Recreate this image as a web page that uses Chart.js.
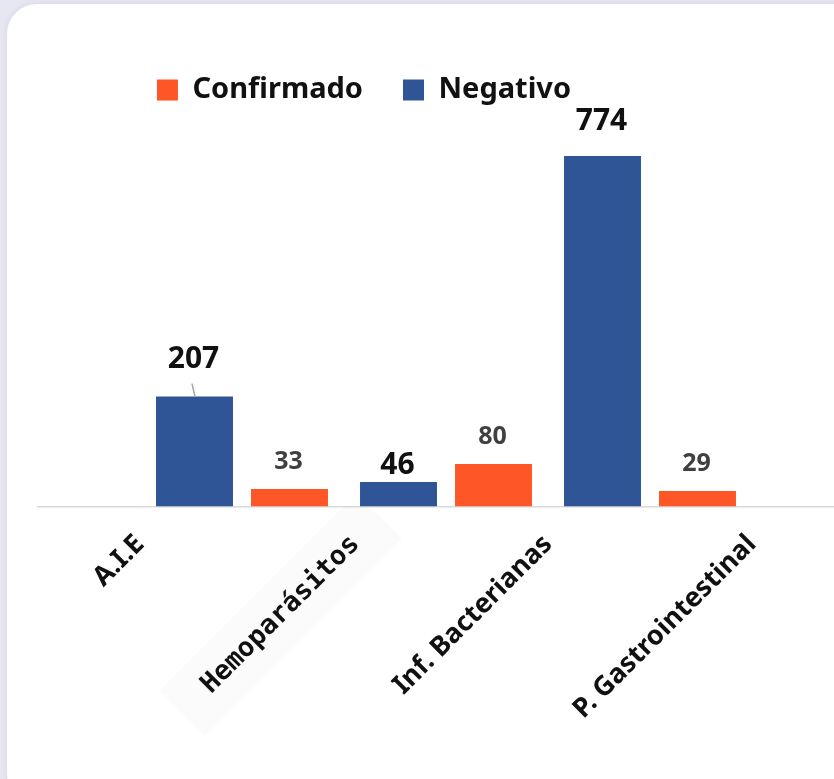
<!DOCTYPE html>
<html lang="es">
<head>
  <meta charset="UTF-8" />
  <title>Confirmado vs Negativo</title>
  <script src="https://cdn.jsdelivr.net/npm/chart.js"></script>
  <style>
    html, body {
      margin: 0;
      width: 834px;
      height: 779px;
      overflow: hidden;
      background: #e7e7f2;
    }
    .card {
      position: absolute;
      left: 7px;
      top: 4px;
      width: 860px;
      height: 800px;
      background: #fff;
      border-radius: 30px;
      box-shadow: 0 0 6px rgba(120,120,170,0.15);
    }
    .wrap {
      position: absolute;
      left: -126px;
      top: 0;
    }
  </style>
</head>
<body>
  <div class="card"></div>
  <div class="wrap">
    <canvas id="chart" width="980" height="779"></canvas>
  </div>

  <script>
    const categories = ['A.I.E', 'Hemoparásitos', 'Inf. Bacterianas', 'P. Gastrointestinal'];
    const confirmado = [null, 33, 80, 29];
    const negativo = [207, 46, 774, null];
    const yMax = 660;

    const ORANGE = '#ff5627';
    const BLUE = '#2f5597';
    const FONT = "'Noto Sans', sans-serif";

    // labels that Excel pushed up a bit (index -> extra px), 207 has a leader line
    const liftNegativo = { 0: 20, 2: 18 };

    const valueLabels = {
      id: 'valueLabels',
      afterDatasetsDraw(chart) {
        const ctx = chart.ctx;
        const top = chart.chartArea.top;
        ctx.save();
        ctx.textAlign = 'center';
        ctx.textBaseline = 'middle';
        chart.data.datasets.forEach((ds, di) => {
          const meta = chart.getDatasetMeta(di);
          meta.data.forEach((bar, i) => {
            const v = ds.data[i];
            if (v == null) return;
            const barTop = Math.max(bar.y, top);
            let y, lift = 0;
            if (di === 1) {
              lift = liftNegativo[i] || 0;
              y = barTop - 17 - lift;
              ctx.font = 'bold 30px ' + FONT;
              ctx.fillStyle = '#111';
            } else {
              y = barTop - 27;
              ctx.font = 'bold 25px ' + FONT;
              ctx.fillStyle = '#404040';
            }
            ctx.fillText(String(v), bar.x - 1, y);
            if (di === 1 && i === 0) {
              ctx.strokeStyle = '#a6a6a6';
              ctx.lineWidth = 1.5;
              ctx.beginPath();
              ctx.moveTo(bar.x - 2.5, y + 24);
              ctx.lineTo(bar.x + 0.5, barTop);
              ctx.stroke();
            }
          });
        });
        ctx.restore();
      }
    };

    new Chart(document.getElementById('chart'), {
      type: 'bar',
      data: {
        labels: categories,
        datasets: [
          { label: 'Confirmado', data: confirmado, backgroundColor: ORANGE },
          { label: 'Negativo', data: negativo, backgroundColor: BLUE }
        ]
      },
      options: {
        responsive: false,
        animation: false,
        categoryPercentage: 1.0686,
        barPercentage: 0.706,
        layout: { padding: { left: 0, right: 0, top: 35.5, bottom: 42.5 } },
        plugins: {
          legend: {
            position: 'top',
            labels: {
              font: { family: FONT, size: 29, weight: 'bold' },
              color: '#111',
              boxWidth: 21,
              boxHeight: 21,
              padding: 40
            }
          },
          // empty spacer between legend and plot
          subtitle: {
            display: true,
            text: '',
            weight: 500,
            font: { size: 10 },
            padding: { top: 14, bottom: 15.5 }
          },
          tooltip: { enabled: false }
        },
        scales: {
          x: {
            grid: { display: false },
            border: { display: true, color: '#d9d9d9', width: 1.5 },
            afterFit: (scale) => { scale.height = 230; },
            ticks: {
              autoSkip: false,
              minRotation: 45,
              maxRotation: 45,
              padding: 14,
              color: '#111',
              font: (c) => c.index === 1
                ? { family: "'DejaVu Sans Mono', monospace", size: 27, weight: 'bold' }
                : { family: FONT, size: 27, weight: 'bold' },
              showLabelBackdrop: (c) => c.index === 1,
              backdropColor: 'rgba(0,0,0,0.015)',
              backdropPadding: { x: 34, y: 16 }
            }
          },
          y: {
            // hidden axis, kept only as an empty left margin so the legend stays centred on the canvas
            display: true,
            min: 0,
            max: yMax,
            afterFit: (scale) => { scale.width = 164; },
            grid: { display: false },
            border: { display: false },
            ticks: { display: false }
          }
        }
      },
      plugins: [valueLabels]
    });
  </script>
</body>
</html>
